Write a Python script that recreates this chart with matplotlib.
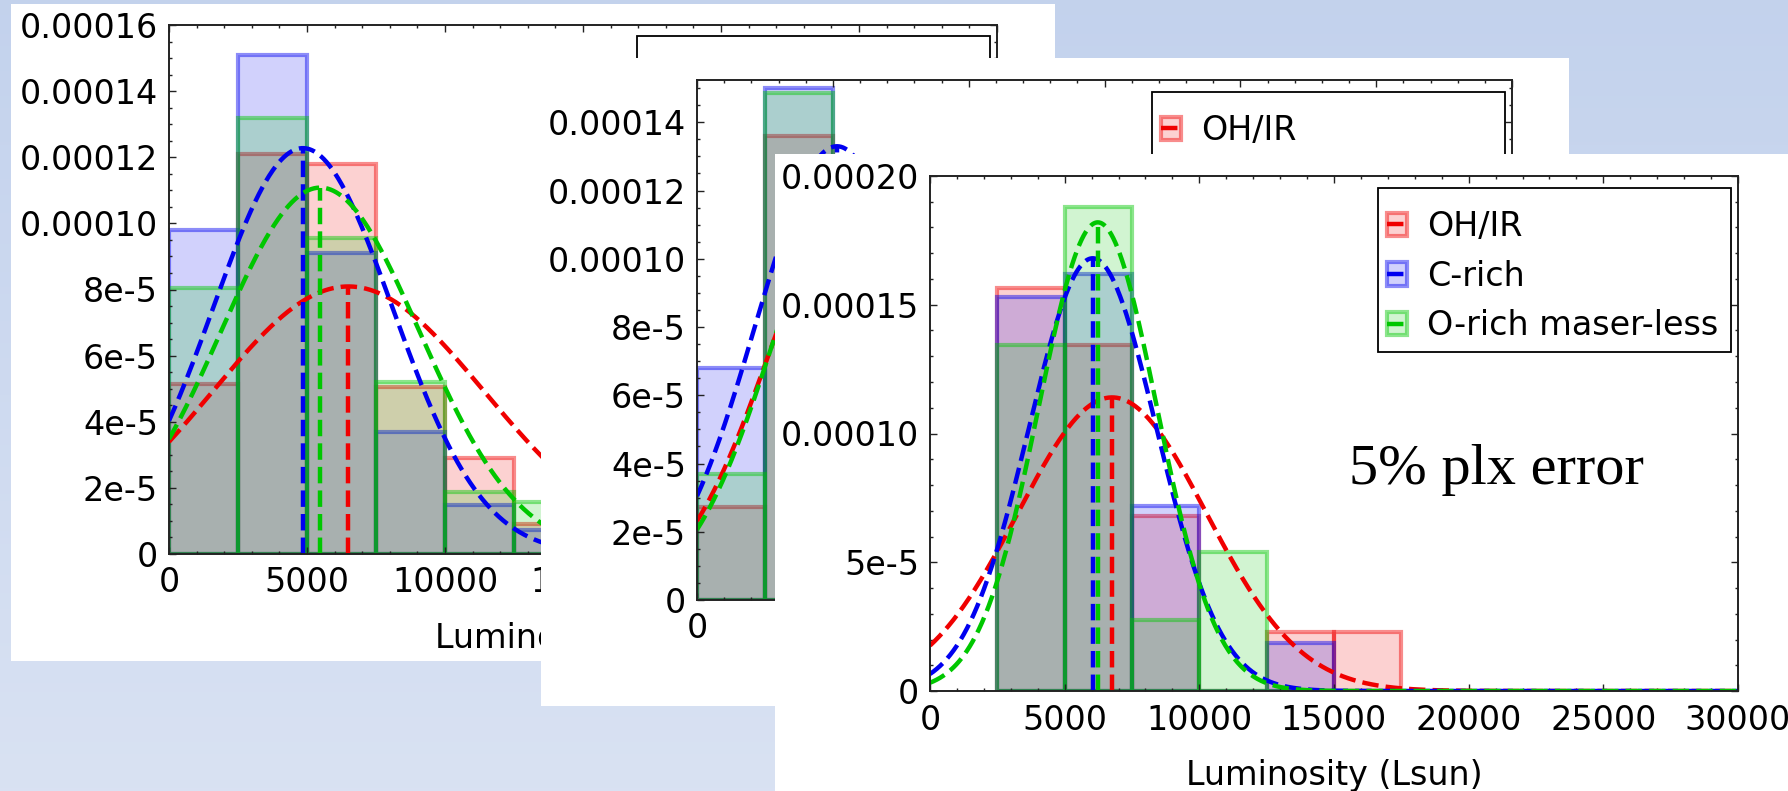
import matplotlib
matplotlib.use("Agg")
import matplotlib.pyplot as plt
import numpy as np
from matplotlib.patches import Patch, Rectangle
from matplotlib.lines import Line2D
from matplotlib.ticker import MultipleLocator

W, H = 1788, 791
fig = plt.figure(figsize=(W / 100, H / 100), dpi=100)

labels = ["OH/IR", "C-rich", "O-rich maser-less"]
colors = [(0.94, 0.0, 0.0), (0.0, 0.0, 0.94), (0.0, 0.78, 0.0)]
bin_width = 2500

# back panel
p1_edges = [0, 2500, 5000, 7500, 10000, 12500]
p1_ohir = [5.15e-5, 12.1e-5, 11.8e-5, 5.05e-5, 2.9e-5, 0.92e-5]
p1_crich = [9.8e-5, 15.1e-5, 9.1e-5, 3.7e-5, 1.48e-5, 0.72e-5]
p1_orich = [8.05e-5, 13.2e-5, 9.55e-5, 5.2e-5, 1.87e-5, 1.58e-5]
p1_mean = [6500, 4850, 5480]
p1_sigma = [4930, 3250, 3600]

# middle panel (mostly covered)
p2_edges = [0, 2500]
p2_ohir = [2.74e-5, 13.6e-5]
p2_crich = [6.8e-5, 15.0e-5]
p2_orich = [3.7e-5, 14.85e-5]
p2_mean = [6000, 5150, 6000]
p2_sigma = [3300, 3000, 3150]

# front panel, 5% parallax error
p3_edges = [2500, 5000, 7500, 10000, 12500, 15000]
p3_ohir = [15.65e-5, 13.45e-5, 6.8e-5, 0.0, 2.29e-5, 2.29e-5]
p3_crich = [15.3e-5, 16.2e-5, 7.18e-5, 0.0, 1.85e-5, 0.0]
p3_orich = [13.45e-5, 18.8e-5, 2.74e-5, 5.39e-5, 0.0, 0.0]
p3_mean = [6760, 6040, 6230]
p3_sigma = [3499, 2374, 2192]

x_ticks = [0, 5000, 10000, 15000, 20000, 25000, 30000]
x_labels = ["0", "5000", "10000", "15000", "20000", "25000", "30000"]
y_ticks_a = [0, 2e-5, 4e-5, 6e-5, 8e-5, 1e-4, 1.2e-4, 1.4e-4, 1.6e-4]
y_labels_a = ["0", "2e-5", "4e-5", "6e-5", "8e-5", "0.00010", "0.00012", "0.00014", "0.00016"]
y_ticks_b = [0, 5e-5, 1e-4, 1.5e-4, 2e-4]
y_labels_b = ["0", "5e-5", "0.00010", "0.00015", "0.00020"]

FS = 24

# background gradient
bg = fig.add_axes([0, 0, 1, 1], zorder=-1)
grad = np.linspace(0, 1, 256)[:, None, None]
top = np.array([0.765, 0.824, 0.929])
bot = np.array([0.851, 0.886, 0.953])
bg.imshow(top * (1 - grad) + bot * grad, aspect="auto", extent=[0, 1, 0, 1])
bg.axis("off")

xs = np.linspace(0, 30000, 1200)


def rect(l, t, r, b):
    return [l / W, 1 - b / H, (r - l) / W, (b - t) / H]


def panel(card, box, edges, heights, means, sigmas, ylim, yt, yl, yminor, z):
    c = fig.add_axes(rect(*card), zorder=z)
    c.set_facecolor("white")
    c.set_xticks([])
    c.set_yticks([])
    for s in c.spines.values():
        s.set_visible(False)

    ax = fig.add_axes(rect(*box), zorder=z + 1)
    ax.set_facecolor("white")
    for col, h, m, sd in zip(colors, heights, means, sigmas):
        ax.bar(edges, h, width=bin_width, align="edge",
               color=col + (0.18,), edgecolor=col + (0.45,), linewidth=3)
        pdf = np.exp(-0.5 * ((xs - m) / sd) ** 2) / (sd * np.sqrt(2 * np.pi))
        ax.plot(xs, pdf, "--", color=col, lw=3.2)
        ax.plot([m, m], [0, pdf.max()], "--", color=col, lw=3.2)

    ax.set_xticks(x_ticks)
    ax.set_xticklabels(x_labels)
    ax.set_yticks(yt)
    ax.set_yticklabels(yl)
    ax.set_xlim(0, 30000)
    ax.set_ylim(*ylim)
    ax.xaxis.set_minor_locator(MultipleLocator(1000))
    ax.yaxis.set_minor_locator(MultipleLocator(yminor))
    ax.tick_params(which="both", direction="in", top=True, right=True,
                   labelsize=FS, width=1, color="#222222")
    ax.tick_params(which="major", length=5)
    ax.tick_params(which="minor", length=2.5)
    ax.tick_params(axis="y", which="major", pad=8)
    ax.tick_params(axis="x", which="major", pad=9)
    for s in ax.spines.values():
        s.set_linewidth(1.4)
        s.set_color("#222222")
    ax.set_xlabel("Luminosity (Lsun)", fontsize=FS, labelpad=16)

    # legend: frame drawn by hand so the padding can differ per side
    wpx = box[2] - box[0]
    hpx = box[3] - box[1]
    ax.add_patch(Rectangle((1 - 360 / wpx, 1 - 175.5 / hpx), 353 / wpx, 164 / hpx,
                           transform=ax.transAxes, facecolor="white",
                           edgecolor="black", lw=1.3, zorder=4.9))
    handles = [(Patch(facecolor=col + (0.18,), edgecolor=col + (0.45,), linewidth=3),
                Line2D([], [], color=col, ls="--", lw=3.2)) for col in colors]
    ax.legend(handles, labels, loc="upper left", fontsize=FS,
              bbox_to_anchor=(1 - 351 / wpx, 1 - 34 / hpx),
              handlelength=0.6, handletextpad=0.6, borderpad=0,
              labelspacing=0.5, borderaxespad=0, frameon=False)
    return ax


panel((11, 4, 1055, 661), (169, 25, 997, 554), p1_edges,
      [p1_ohir, p1_crich, p1_orich], p1_mean, p1_sigma,
      (0, 1.6e-4), y_ticks_a, y_labels_a, 0.5e-5, 1)
panel((541, 58, 1569, 706), (697, 80, 1512, 600), p2_edges,
      [p2_ohir, p2_crich, p2_orich], p2_mean, p2_sigma,
      (0, 1.524e-4), y_ticks_a, y_labels_a, 0.5e-5, 3)
panel((775, 154, 1788, 791), (930, 176, 1738, 691), p3_edges,
      [p3_ohir, p3_crich, p3_orich], p3_mean, p3_sigma,
      (0, 2e-4), y_ticks_b, y_labels_b, 1e-5, 5)

fig.text(1349 / W, 1 - 484 / H, "5% plx error", fontsize=42,
         family="Liberation Serif", va="baseline", zorder=10)

fig.savefig("out.png", dpi=100)
